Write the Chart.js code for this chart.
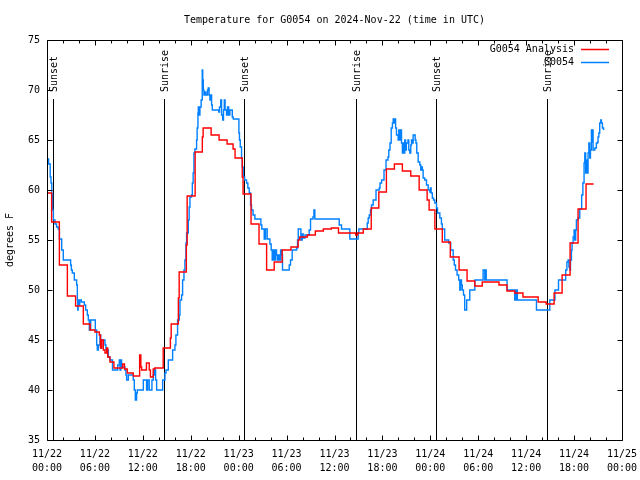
<!DOCTYPE html>
<html>
<head>
<meta charset="utf-8">
<script src="https://cdn.jsdelivr.net/npm/chart.js@4.4.0/dist/chart.umd.min.js"></script>
<style>
  html, body { margin: 0; padding: 0; background: #fff; }
</style>
</head>
<body>
<canvas id="chart" width="640" height="480"></canvas>
<script>
const FONT = 'DejaVu Sans Mono, Liberation Mono, monospace';

const chartTitle = 'Temperature for G0054 on 2024-Nov-22 (time in UTC)';
const yTitle = 'degrees F';

// x axis: hours since 11/22 00:00 UTC, labelled every 6 h
const xTickDates = ['11/22','11/22','11/22','11/22','11/23','11/23','11/23','11/23','11/24','11/24','11/24','11/24','11/25'];
const xTickTimes = ['00:00','06:00','12:00','18:00','00:00','06:00','12:00','18:00','00:00','06:00','12:00','18:00','00:00'];

// sunrise / sunset markers (hours)
const eventHours = [0.79, 14.66, 24.66, 38.66, 48.66, 62.66];
const eventNames = ['Sunset', 'Sunrise', 'Sunset', 'Sunrise', 'Sunset', 'Sunrise'];

// [hour, degF] - value holds until the next point
const analysis = [
  [0,59.7],[0.58,56.8],[1.55,52.5],[2.55,49.4],[3.58,48.4],[4.55,46.6],[5.4,46.0],[6.0,45.8],
  [6.55,45.5],[6.7,44.2],[6.84,45.0],[7.05,44.0],[7.26,43.7],[7.47,44.2],[7.6,43.3],[7.88,42.8],
  [8.38,42.2],[9.47,42.6],[9.7,42.1],[10.05,41.7],[10.8,41.4],[11.6,43.5],[11.75,42.3],[11.85,42.0],
  [12.45,42.7],[12.8,42.0],[12.95,41.3],[13.3,42.1],[13.5,42.2],[14.55,44.2],[15.45,45.2],[15.55,46.6],
  [16.45,49.2],[16.55,51.8],[17.45,54.5],[17.55,59.4],[18.55,63.8],[19.45,65.3],[19.55,66.2],[20.55,65.5],
  [21.55,65.0],[22.55,64.6],[23.3,64.1],[23.55,63.2],[24.45,61.3],[24.55,59.6],[25.55,56.6],[26.55,54.6],
  [27.5,52.0],[28.45,52.8],[29.45,54.0],[30.55,54.3],[31.45,55.0],[31.65,55.3],[32.6,55.5],[33.6,55.9],
  [34.6,56.1],[35.6,56.2],[36.5,55.7],[38.65,55.5],[38.9,55.7],[39.6,56.1],[40.6,58.2],[41.55,59.8],
  [42.5,62.1],[43.5,62.6],[44.5,61.9],[45.55,61.4],[46.6,60.0],[47.6,59.0],[47.85,58.0],[48.57,56.1],
  [49.5,54.8],[50.5,53.3],[51.6,52.0],[52.6,50.9],[53.57,50.4],[54.5,50.8],[56.6,50.5],[57.6,49.9],
  [58.56,49.7],[59.6,49.3],[61.5,48.8],[62.5,48.6],[63.5,49.7],[64.5,51.5],[65.5,54.7],[66.5,58.1],
  [67.5,60.6],[68.45,60.6]
];

const observed = [
  [0,63.1],[0.2,62.6],[0.4,61.3],[0.5,60.7],[0.6,59.6],[0.7,58.0],[0.8,57.0],[1.0,56.6],[1.2,56.3],
  [1.4,56.1],[1.55,55.1],[1.84,54.0],[2.04,53.0],[2.96,52.5],[3.05,52.0],[3.17,51.7],[3.42,51.0],
  [3.71,50.5],[3.8,49.0],[3.85,48.0],[3.9,49.0],[4.0,48.5],[4.1,49.0],[4.3,48.8],[4.67,48.5],[4.84,48.0],
  [5.05,47.5],[5.17,47.0],[5.3,46.0],[5.47,47.0],[6.05,46.0],[6.22,44.5],[6.3,44.0],[6.43,44.5],
  [6.63,45.5],[6.72,44.2],[6.84,45.0],[7.26,44.5],[7.38,44.0],[7.68,43.3],[7.88,43.0],[8.2,42.0],
  [8.85,42.5],[9.05,43.0],[9.14,42.0],[9.26,43.0],[9.34,42.3],[9.76,42.0],[9.88,41.5],[9.97,41.0],
  [10.18,41.5],[10.8,41.0],[10.93,40.0],[11.06,39.0],[11.22,39.7],[11.31,40.0],[12.06,41.0],[12.47,40.0],
  [12.6,41.0],[12.8,40.0],[13.14,41.0],[13.31,41.5],[13.43,42.0],[13.6,41.0],[13.73,40.0],[14.48,41.0],
  [14.77,41.7],[14.9,42.0],[15.19,43.0],[15.73,44.0],[16.02,44.5],[16.14,45.5],[16.35,47.0],[16.56,47.5],
  [16.65,49.0],[16.85,49.5],[16.98,51.0],[17.15,52.0],[17.27,53.0],[17.4,54.7],[17.48,55.7],[17.69,57.0],
  [17.8,58.3],[17.9,59.3],[18.1,59.5],[18.2,60.7],[18.3,61.7],[18.4,63.7],[18.52,64.1],[18.73,65.0],
  [18.8,66.2],[18.9,67.7],[18.95,68.3],[19.05,67.5],[19.15,68.3],[19.3,69.0],[19.44,72.0],[19.5,71.0],
  [19.57,70.0],[19.65,69.5],[19.77,69.8],[19.9,69.5],[20.1,70.0],[20.19,70.2],[20.3,69.5],[20.4,69.0],
  [20.5,69.5],[20.61,68.5],[20.7,68.0],[21.5,67.8],[21.6,68.3],[21.75,69.0],[21.86,67.5],[22.0,67.0],
  [22.1,68.0],[22.2,69.0],[22.3,68.0],[22.48,67.5],[22.6,68.3],[22.75,67.5],[22.9,68.0],[23.2,67.3],
  [23.32,67.1],[24.03,65.7],[24.1,65.0],[24.2,64.3],[24.36,63.2],[24.45,62.3],[24.57,61.3],[24.75,61.0],
  [24.99,60.7],[25.15,60.2],[25.32,59.7],[25.49,58.5],[25.61,58.0],[25.8,57.5],[26.03,57.1],[26.78,56.5],
  [26.9,56.1],[27.2,55.1],[27.36,56.1],[27.57,55.1],[27.91,54.6],[28.07,54.0],[28.2,53.0],[28.32,54.0],
  [28.45,53.0],[28.62,54.0],[28.74,53.5],[28.85,53.0],[28.95,53.5],[29.08,53.0],[29.25,54.0],[29.4,53.5],
  [29.49,52.0],[30.33,52.5],[30.49,53.0],[30.7,54.0],[31.25,54.2],[31.37,55.0],[31.46,56.1],[31.79,55.0],
  [31.96,55.6],[32.08,55.2],[32.3,55.5],[32.83,56.0],[33.0,57.1],[33.3,57.3],[33.42,58.0],[33.54,57.1],
  [36.59,56.5],[36.88,56.1],[37.92,55.1],[38.96,55.7],[39.05,56.1],[40.1,56.7],[40.22,57.2],[40.35,57.5],
  [40.51,58.0],[40.63,58.5],[40.84,59.0],[41.2,60.0],[41.6,60.2],[41.7,60.7],[41.9,61.0],[42.2,62.0],
  [42.45,63.0],[42.7,63.3],[42.8,64.0],[42.95,64.7],[43.1,66.2],[43.25,66.7],[43.35,67.1],[43.45,66.7],
  [43.55,67.1],[43.65,66.2],[43.76,65.5],[43.97,65.0],[44.05,66.0],[44.18,65.0],[44.25,66.0],[44.39,64.7],
  [44.5,63.7],[44.6,64.7],[44.7,63.7],[44.8,65.0],[44.9,64.0],[45.0,64.7],[45.2,65.0],[45.3,64.0],
  [45.43,63.7],[45.55,64.5],[45.64,65.0],[45.75,64.7],[45.85,65.5],[46.1,65.0],[46.2,64.7],[46.3,63.7],
  [46.48,62.8],[46.68,62.5],[46.8,62.0],[46.89,62.3],[47.0,62.0],[47.1,61.2],[47.3,61.0],[47.52,60.5],
  [47.73,60.0],[47.94,59.8],[48.0,60.2],[48.1,59.7],[48.25,59.2],[48.4,59.0],[48.56,58.7],[48.77,58.2],
  [48.9,57.7],[49.19,57.2],[49.39,56.6],[49.5,56.1],[49.8,55.0],[50.3,54.7],[50.55,54.0],[50.86,53.0],
  [51.0,52.5],[51.15,52.0],[51.35,51.5],[51.55,51.0],[51.69,50.0],[51.8,51.0],[51.9,50.5],[52.0,50.0],
  [52.15,49.5],[52.3,48.0],[52.55,49.0],[52.94,50.0],[53.57,51.0],[54.61,52.0],[54.82,51.0],[54.9,52.0],
  [55.0,51.0],[57.61,50.0],[58.57,49.0],[58.75,50.0],[58.9,49.0],[61.29,48.0],[62.96,49.0],[63.6,50.0],
  [64.05,51.0],[64.95,52.0],[65.1,52.8],[65.25,53.0],[65.35,52.3],[65.46,52.0],[65.55,53.0],[65.67,54.0],
  [65.75,54.7],[65.88,55.3],[66.0,56.0],[66.08,55.0],[66.2,56.0],[66.29,57.0],[66.5,57.2],[66.71,58.1],
  [66.95,59.5],[67.1,60.7],[67.25,62.7],[67.34,63.7],[67.45,61.7],[67.54,63.0],[67.65,61.7],[67.75,63.7],
  [67.85,64.7],[67.96,63.2],[68.05,64.0],[68.17,66.0],[68.25,64.8],[68.32,66.0],[68.38,64.0],[68.6,64.2],
  [68.79,64.7],[68.95,64.8],[69.0,65.3],[69.1,65.7],[69.21,66.7],[69.34,67.0],[69.42,66.7],[69.55,66.2],
  [69.7,66.0]
];

const toPoints = rows => rows.map(r => ({ x: r[0], y: r[1] }));

// gnuplot-style frame, inward tics, sun markers and legend
const decorations = {
  id: 'decorations',
  beforeDatasetsDraw(chart) {
    const { ctx, chartArea: a, scales: { x } } = chart;
    ctx.save();
    ctx.strokeStyle = '#000';
    ctx.fillStyle = '#000';
    ctx.lineWidth = 1;
    ctx.font = '10px ' + FONT;
    eventHours.forEach((h, i) => {
      const px = Math.round(x.getPixelForValue(h)) + 0.5;
      ctx.beginPath();
      ctx.moveTo(px, a.top + 59);
      ctx.lineTo(px, a.bottom);
      ctx.stroke();
      ctx.save();
      ctx.translate(px + 1, a.top + 52);
      ctx.rotate(-Math.PI / 2);
      ctx.textAlign = 'left';
      ctx.textBaseline = 'middle';
      ctx.fillText(eventNames[i], 0, 0);
      ctx.restore();
    });
    ctx.restore();
  },
  afterDatasetsDraw(chart) {
    const { ctx, chartArea: a, scales: { x, y } } = chart;
    const L = Math.round(a.left) + 0.5, R = Math.round(a.right) + 0.5;
    const T = Math.round(a.top) + 0.5, B = Math.round(a.bottom) + 0.5;
    ctx.save();
    ctx.strokeStyle = '#000';
    ctx.lineWidth = 1;
    ctx.beginPath();
    ctx.rect(L, T, R - L, B - T);
    for (let h = 0; h <= 72; h += 2) {
      const px = Math.round(x.getPixelForValue(h)) + 0.5;
      const len = h % 6 === 0 ? 5 : 3;
      ctx.moveTo(px, B); ctx.lineTo(px, B - len);
      ctx.moveTo(px, T); ctx.lineTo(px, T + len);
    }
    for (let v = 35; v <= 75; v += 5) {
      const py = Math.round(y.getPixelForValue(v)) + 0.5;
      ctx.moveTo(L, py); ctx.lineTo(L + 5, py);
      ctx.moveTo(R, py); ctx.lineTo(R - 5, py);
    }
    ctx.stroke();

    ctx.font = '10px ' + FONT;
    ctx.fillStyle = '#000';
    ctx.textAlign = 'right';
    ctx.textBaseline = 'middle';
    chart.data.datasets.forEach((ds, i) => {
      const ly = Math.round(a.top + 9 + i * 13) + 0.5;
      ctx.fillText(ds.label, a.right - 48, ly);
      ctx.strokeStyle = ds.borderColor;
      ctx.lineWidth = 1.5;
      ctx.beginPath();
      ctx.moveTo(a.right - 41, ly);
      ctx.lineTo(a.right - 13, ly);
      ctx.stroke();
    });
    ctx.restore();
  }
};

new Chart(document.getElementById('chart'), {
  type: 'line',
  data: {
    datasets: [
      { label: 'G0054 Analysis', data: toPoints(analysis), borderColor: '#ff0000', borderWidth: 1.4,
        pointRadius: 0, stepped: true, fill: false },
      { label: 'G0054', data: toPoints(observed), borderColor: '#0080ff', borderWidth: 1.4,
        pointRadius: 0, stepped: true, fill: false }
    ]
  },
  options: {
    responsive: false,
    devicePixelRatio: 1,
    animation: false,
    events: [],
    layout: { padding: { left: 0, right: 18, top: 0, bottom: 0 } },
    plugins: {
      legend: { display: false },
      tooltip: { enabled: false },
      title: {
        display: true,
        text: chartTitle,
        fullSize: false,
        color: '#000',
        font: { family: FONT, size: 10, weight: 'normal', lineHeight: 1.2 },
        padding: { top: 14, bottom: 14 }
      }
    },
    scales: {
      x: {
        type: 'linear',
        min: 0,
        max: 72,
        grid: { display: false, drawTicks: false },
        border: { display: false },
        afterFit(s) { s.height = 40; s.paddingLeft = 0; s.paddingRight = 0; },
        ticks: {
          stepSize: 6,
          autoSkip: false,
          maxRotation: 0,
          padding: 7,
          color: '#000',
          font: { family: FONT, size: 10, lineHeight: 1.4 },
          callback: v => [xTickDates[v / 6], xTickTimes[v / 6]]
        }
      },
      y: {
        min: 35,
        max: 75,
        grid: { display: false, drawTicks: false },
        border: { display: false },
        afterFit(s) { s.width = 47; s.paddingTop = 0; s.paddingBottom = 0; },
        title: {
          display: true,
          text: yTitle,
          color: '#000',
          font: { family: FONT, size: 10 },
          padding: { top: 4, bottom: 0 }
        },
        ticks: {
          stepSize: 5,
          padding: 7,
          color: '#000',
          font: { family: FONT, size: 10 }
        }
      }
    }
  },
  plugins: [decorations]
});
</script>
</body>
</html>
